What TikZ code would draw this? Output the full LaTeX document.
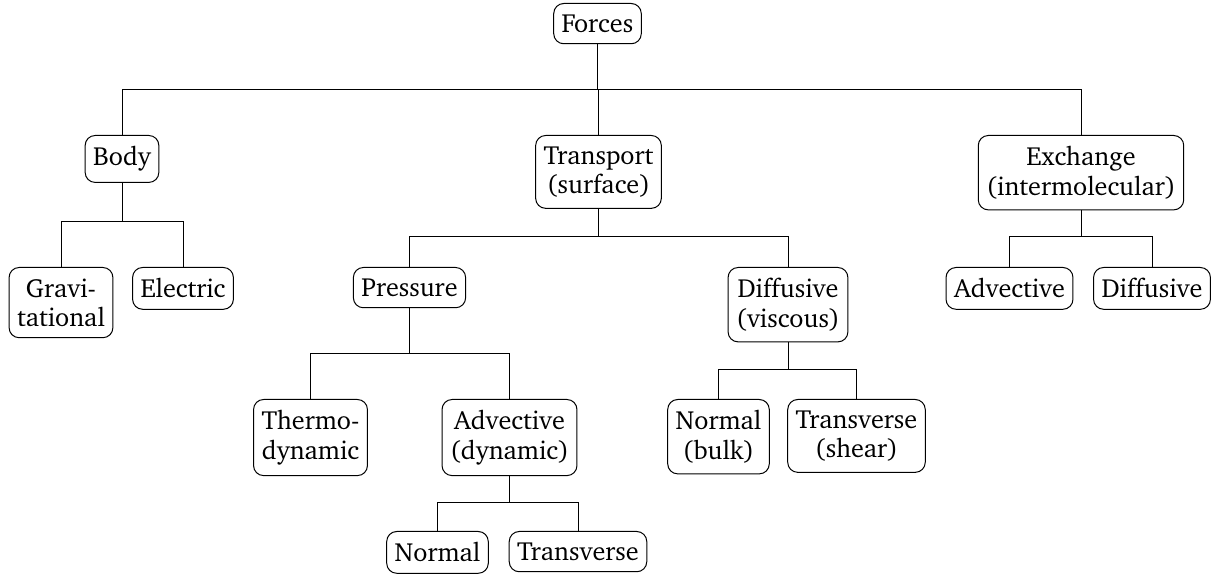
\documentclass[tikz,border=0pt]{standalone}
\usepackage[T1]{fontenc}
\renewcommand{\rmdefault}{bch}
\begin{document}
\begin{tikzpicture}[x=0.5pt,y=-0.5pt,
  box/.style={draw,rounded corners=5pt,align=center,inner xsep=4pt,inner ysep=5.5pt,
    font=\fontsize{13.1}{14.6}\selectfont,anchor=north,line width=0.5pt},
  link/.style={line width=0.5pt}]
\useasboundingbox (0,0) rectangle (1217,577);
% nodes
\node[box] (forces) at (597.5,3) {Forces};
\node[box] (body) at (122,135) {Body};
\node[box] (transport) at (598.5,135) {Transport\\(surface)};
\node[box] (exchange) at (1081,135) {Exchange\\(intermolecular)};
\node[box] (grav) at (61,267) {Gravi-\\tational};
\node[box] (electric) at (183,267) {Electric};
\node[box] (pressure) at (409.5,267) {Pressure};
\node[box] (diffv) at (788,267) {Diffusive\\(viscous)};
\node[box] (advr) at (1009.5,267) {Advective};
\node[box] (diffr) at (1152,267) {Diffusive};
\node[box] (thermo) at (310.5,399) {Thermo-\\dynamic};
\node[box] (advdyn) at (509.5,399) {Advective\\(dynamic)};
\node[box] (normbulk) at (718.5,399) {Normal\\(bulk)};
\node[box] (transshear) at (856.5,399) {Transverse\\(shear)};
\node[box] (normal) at (437.5,531) {Normal};
\node[box] (transverse) at (578,531) {Transverse};
% bar levels
\coordinate (b0) at (0,90);
\coordinate (b1) at (0,222);
\coordinate (b2) at (0,237);
\coordinate (b3) at (0,354);
\coordinate (b4) at (0,370);
\coordinate (b5) at (0,503);
% connectors
\foreach \c in {body,transport,exchange}
  \draw[link] (forces.south) -- (forces.south |- b0) -| (\c.north);
\foreach \c in {grav,electric}
  \draw[link] (body.south) -- (body.south |- b1) -| (\c.north);
\foreach \c in {pressure,diffv}
  \draw[link] (transport.south) -- (transport.south |- b2) -| (\c.north);
\foreach \c in {advr,diffr}
  \draw[link] (exchange.south) -- (exchange.south |- b2) -| (\c.north);
\foreach \c in {thermo,advdyn}
  \draw[link] (pressure.south) -- (pressure.south |- b3) -| (\c.north);
\foreach \c in {normbulk,transshear}
  \draw[link] (diffv.south) -- (diffv.south |- b4) -| (\c.north);
\foreach \c in {normal,transverse}
  \draw[link] (advdyn.south) -- (advdyn.south |- b5) -| (\c.north);
\end{tikzpicture}
\end{document}
